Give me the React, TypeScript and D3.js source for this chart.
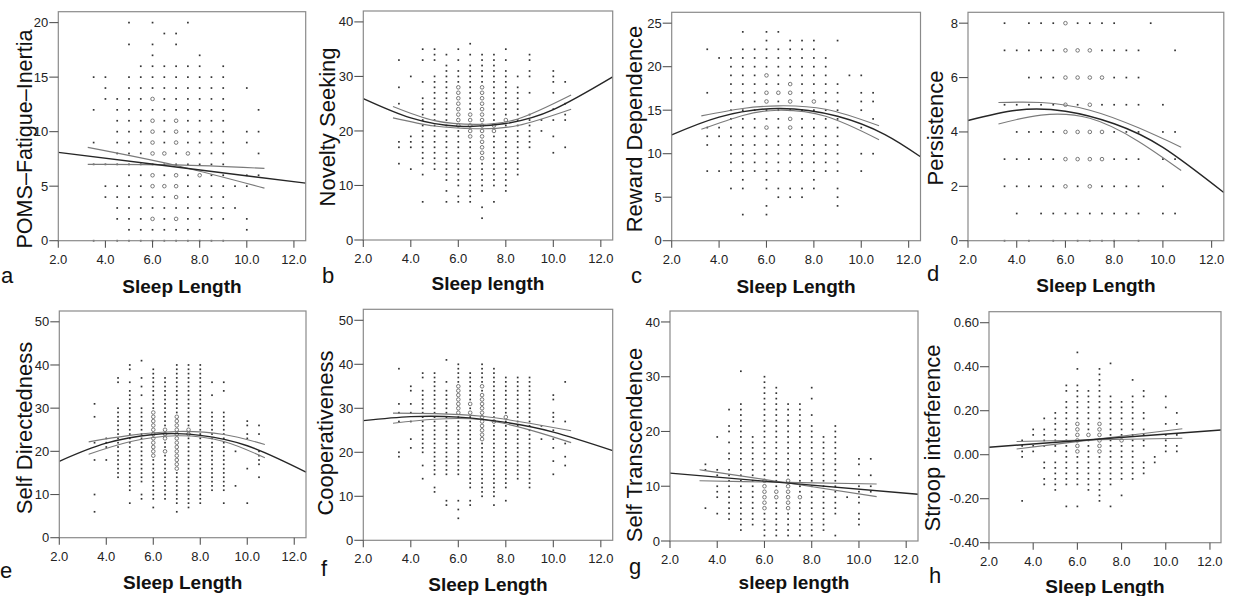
import * as d3 from "d3";

type Pt = [number, number];
type Item = number | [number, number];
type Col = [number, Item[]];
type Row = [number, number[]];

// ---- panel a: POMS fatigue (read by rows: [y, xs]) ----
const rowsA: Row[] = [
  [20, [5, 6, 7.5]],
  [19, [6.5, 7]],
  [18, [5, 6, 7]],
  [17, [6, 8]],
  [16, [5.5, 6, 6.5, 7, 7.5, 8, 9]],
  [15, [3.5, 4, 5, 5.5, 6, 6.5, 7, 7.5, 8, 8.5, 9]],
  [14, [4, 5, 5.5, 6, 6.5, 7, 7.5, 8, 8.5, 9, 10]],
  [13, [4, 4.5, 5, 5.5, 6, 6.5, 7, 7.5, 8, 8.5, 9]],
  [12, [3.5, 4.5, 5, 5.5, 6, 6.5, 7, 7.5, 8, 8.5, 9, 10.5]],
  [11, [4.5, 5, 5.5, 6, 6.5, 7, 7.5, 8, 8.5, 9]],
  [10, [4.5, 5, 5.5, 6, 6.5, 7, 7.5, 8, 8.5, 9, 10, 10.5]],
  [9, [3.5, 4.5, 5, 5.5, 6, 6.5, 7, 7.5, 8, 8.5, 9, 10]],
  [8, [4.5, 5, 5.5, 6, 6.5, 7, 7.5, 8, 8.5, 9, 10.5]],
  [7, [3.5, 4, 4.5, 5, 5.5, 6, 6.5, 7, 7.5, 8, 8.5, 9]],
  [6, [5, 5.5, 6, 6.5, 7, 7.5, 8, 8.5, 9, 10, 10.5]],
  [5, [4, 4.5, 5, 5.5, 6, 6.5, 7, 7.5, 8, 8.5, 9, 9.5, 10]],
  [4, [4, 4.5, 5, 5.5, 6, 6.5, 7, 7.5, 8, 8.5, 9]],
  [3, [4.5, 5, 5.5, 6, 6.5, 7, 7.5, 8, 8.5, 9, 9.5]],
  [2, [4.5, 5, 5.5, 6, 6.5, 7, 7.5, 8, 8.5, 9, 10]],
  [1, [5, 5.5, 6, 6.5, 7, 7.5, 8, 10]],
  [0, [3.5, 4.5, 5, 5.5, 6, 6.5, 7, 7.5, 8, 8.5, 9]],
];
const ringsA: Col[] = [[6, [13, 11, 10, 9, 8, 6, 5, 2]], [6.5, [8, 5]], [7, [11, 10, 9, 6, 5, 4, 2]], [7.5, [8]], [8, [6]]];
const fitA: Pt[] = [[2, 8.1], [7, 6.76], [12.5, 5.28]];
const ciA1: Pt[] = [[3.25, 8.56], [7, 6.9], [10.75, 4.82]];
const ciA2: Pt[] = [[3.25, 7.0], [7, 6.95], [10.75, 6.63]];

// ---- panel b: novelty seeking (columns: [x, ys | [lo, hi] runs]) ----
const colsB: Col[] = [
  [3.5, [33, 28, 25, 18, 17, 14]],
  [4, [30, 19, 18, 17, 13]],
  [4.5, [35, 33, 29, [14, 26], 12, 7]],
  [5, [35, 34, 33, [13, 30]]],
  [5.5, [34, [11, 32], 9, 7]],
  [6, [35, 33, [10, 31], 8, 7]],
  [6.5, [36, 34, [7, 32]]],
  [7, [34, [9, 33], 6, 4]],
  [7.5, [34, [10, 33], 7]],
  [8, [35, 33, [9, 31]]],
  [8.5, [30, 28, [12, 27]]],
  [9, [34, 33, 31, 30, 27, [17, 23]]],
  [9.5, [22, 20]],
  [10, [31, 30, 29, 27, 24, 22, 19, 16]],
  [10.5, [29, 25, 23, 22, 17]],
];
const ringsB: Col[] = [[6, [[21, 28]]], [6.5, [[19, 23]]], [7, [[15, 28]]], [7.5, [21, 20]], [8, [22]]];
const fitB: Pt[] = [[2, 25.95], [4, 22.4], [6, 20.87], [8, 21.36], [10, 23.9], [12.5, 29.9]];
const ciB1: Pt[] = [[3.25, 24.5], [5, 21.9], [6.75, 21.2], [8.5, 22.2], [10.75, 26.6]];
const ciB2: Pt[] = [[3.25, 22.4], [5, 20.9], [6.75, 20.4], [8.5, 21.0], [10.75, 24.0]];

// ---- panel c: reward dependence (rows) ----
const rowsC: Row[] = [
  [24, [5, 6, 6.5]],
  [23, [6, 7, 7.5, 8, 9]],
  [22, [3.5, 5, 5.5, 6, 6.5, 7, 7.5, 8]],
  [21, [4, 4.5, 5, 5.5, 6, 6.5, 7, 7.5, 8, 8.5]],
  [20, [4.5, 5, 5.5, 6, 6.5, 7, 7.5, 8, 8.5]],
  [19, [4.5, 5, 5.5, 6, 6.5, 7, 7.5, 8, 8.5, 9.5, 10]],
  [18, [4.5, 5, 5.5, 6, 6.5, 7, 7.5, 8, 8.5, 9]],
  [17, [3.5, 4.5, 5, 5.5, 6, 6.5, 7, 7.5, 8, 8.5, 9, 10, 10.5]],
  [16, [4.5, 5, 5.5, 6, 6.5, 7, 7.5, 8, 8.5, 9, 10, 10.5]],
  [15, [4.5, 5, 5.5, 6, 6.5, 7, 7.5, 8, 8.5, 9, 10]],
  [14, [4.5, 5, 5.5, 6, 6.5, 7, 7.5, 8, 8.5, 9, 10.5]],
  [13, [3.5, 4, 4.5, 5, 5.5, 6, 6.5, 7, 7.5, 8, 8.5, 9, 10]],
  [12, [3.5, 4, 4.5, 5, 5.5, 6, 6.5, 7, 7.5, 8, 8.5, 9]],
  [11, [3.5, 4.5, 5, 5.5, 6, 6.5, 7, 7.5, 8, 8.5, 9]],
  [10, [4.5, 5, 5.5, 6, 6.5, 7, 7.5, 8, 8.5, 9, 10, 10.5]],
  [9, [4.5, 5, 5.5, 6, 6.5, 7, 7.5, 8, 8.5, 9]],
  [8, [3.5, 4, 4.5, 5, 5.5, 6, 6.5, 7, 7.5, 8, 8.5, 9, 10]],
  [7, [5, 6, 8]],
  [6, [4.5, 5, 6, 6.5, 7, 7.5, 8, 9]],
  [5, [6.5, 7, 7.5, 9]],
  [4, [6, 9]],
  [3, [5, 6]],
];
const ringsC: Col[] = [[6, [19, 17, 16, 13]], [6.5, [17]], [7, [18, 17, 16, 14, 13]], [8, [16]]];
const fitC: Pt[] = [[2, 12.15], [4, 14.2], [6.5, 15.2], [9, 14.3], [11, 12.2], [12.5, 9.65]];
const ciC1: Pt[] = [[3.25, 14.35], [5, 15.2], [6.5, 15.5], [8.5, 15.1], [10.75, 13.2]];
const ciC2: Pt[] = [[3.25, 12.8], [5, 14.4], [6.5, 15.0], [8.5, 14.3], [10.75, 11.6]];

// ---- panel d: persistence (rows) ----
const rowsD: Row[] = [
  [8, [3.5, 4.5, 5, 5.5, 6, 6.5, 7, 7.5, 8, 9.5]],
  [7, [3.5, 4, 4.5, 5, 5.5, 6, 6.5, 7, 7.5, 8, 8.5, 9, 10.5]],
  [6, [4.5, 5, 5.5, 6, 6.5, 7, 7.5, 8, 8.5, 9]],
  [5, [3.5, 4, 4.5, 5, 5.5, 6, 6.5, 7, 7.5, 8, 8.5, 9, 10]],
  [4, [4, 4.5, 5, 5.5, 6, 6.5, 7, 7.5, 8, 8.5, 9, 10, 10.5]],
  [3, [3.5, 4, 4.5, 5, 5.5, 6, 6.5, 7, 7.5, 8, 8.5, 9, 10, 10.5]],
  [2, [3.5, 4, 4.5, 5, 5.5, 6, 6.5, 7, 7.5, 8, 8.5, 9, 10]],
  [1, [4, 5, 5.5, 6, 6.5, 7, 7.5, 8, 8.5, 9, 10, 10.5]],
  [0, [3.5, 4.5, 5.5, 6.5, 7, 7.5, 8, 9]],
];
const ringsD: Col[] = [[6, [8, 7, 6, 5, 4, 3, 2]], [6.5, [7, 6, 4, 3]], [7, [7, 6, 5, 4, 3, 2]], [7.5, [6, 4, 3]]];
const fitD: Pt[] = [[2, 4.42], [4, 4.8], [6, 4.76], [8, 4.3], [10, 3.43], [12.5, 1.77]];
const ciD1: Pt[] = [[3.25, 5.08], [5, 5.08], [7, 4.8], [9, 4.15], [10.75, 3.44]];
const ciD2: Pt[] = [[3.25, 4.29], [5, 4.62], [7, 4.5], [9, 3.65], [10.75, 2.58]];

// ---- panel e: self directedness ----
const colsE: Col[] = [
  [3.5, [31, 28, 22, 18, 10, 6]],
  [4, [23, 22, 21, 18]],
  [4.5, [37, 36, [14, 30]]],
  [5, [40, 39, 36, 34, [11, 33], 8]],
  [5.5, [41, 37, 35, 33, [13, 30], 10, 9]],
  [6, [[9, 39], 7]],
  [6.5, [[9, 37]]],
  [7, [[8, 40], 6]],
  [7.5, [[7, 40]]],
  [8, [[8, 40]]],
  [8.5, [36, 33, [11, 29]]],
  [9, [36, 34, [11, 29], 8]],
  [9.5, [20, 12]],
  [10, [27, 26, 24, 23, 16, 8]],
  [10.5, [26, 24, 20, 19, 18, 17, 14]],
];
const ringsE: Col[] = [[6, [[19, 29]]], [6.5, [25, 24, 23, 20]], [7, [[16, 28]]], [7.5, [25, 24]]];
const fitE: Pt[] = [[2, 17.7], [4, 21.9], [6, 23.9], [7, 24.1], [8, 23.7], [10, 21.3], [12.5, 15.2]];
const ciE1: Pt[] = [[3.25, 22.2], [5, 23.7], [7, 24.6], [9, 23.9], [10.75, 21.6]];
const ciE2: Pt[] = [[3.25, 19.3], [5, 22.2], [7, 23.6], [9, 22.3], [10.75, 18.5]];

// ---- panel f: cooperativeness ----
const colsF: Col[] = [
  [3.5, [39, 31, 29, 27, 20, 19]],
  [4, [35, 34, 31, 29, 27, 23, 21]],
  [4.5, [38, 37, [20, 34], 17, 14]],
  [5, [[15, 38], 12, 11]],
  [5.5, [41, 36, [15, 34], 9, 8]],
  [6, [[15, 40], 9, 7, 5]],
  [6.5, [[12, 38], 9, 8]],
  [7, [[10, 40]]],
  [7.5, [[10, 39], 8]],
  [8, [[12, 37], 9]],
  [8.5, [[14, 37]]],
  [9, [[12, 37]]],
  [9.5, [26, 23]],
  [10, [33, 32, 29, 28, 27, 25, 23, 21, 18, 15]],
  [10.5, [36, 27, 22, 19, 17]],
];
const ringsF: Col[] = [[6, [[29, 35]]], [6.5, [31, 29]], [7, [[23, 33], 35]], [7.5, [27]], [8, [28]]];
const fitF: Pt[] = [[2, 27.2], [4, 28.1], [6, 28.0], [8, 26.8], [10, 24.6], [12.5, 20.4]];
const ciF1: Pt[] = [[3.25, 28.9], [5, 28.8], [7, 28.2], [9, 26.6], [10.75, 24.9]];
const ciF2: Pt[] = [[3.25, 26.6], [5, 27.5], [7, 27.4], [9, 25.1], [10.75, 22.2]];

// ---- panel g: self transcendence ----
const colsG: Col[] = [
  [3.5, [14, 13, 6]],
  [4, [19, 13, 12, 10, 9, 8, 5]],
  [4.5, [24, 21, 20, 18, 16, 15, [4, 13]]],
  [5, [31, [2, 25]]],
  [5.5, [[3, 19]]],
  [6, [[1, 30]]],
  [6.5, [[1, 28]]],
  [7, [[1, 25]]],
  [7.5, [[1, 25]]],
  [8, [28, 26, 23, [1, 21]]],
  [8.5, [[2, 19]]],
  [9, [[5, 21], 1]],
  [9.5, [8]],
  [10, [15, 14, 12, 10, 9, 8, 7, 5, 4, 3]],
  [10.5, [15, 12, 10, 9]],
];
const ringsG: Col[] = [[6, [[6, 11]]], [6.5, [9, 8]], [7, [[6, 11]]], [7.5, [8]]];
const fitG: Pt[] = [[2, 12.4], [12.5, 8.55]];
const ciG1: Pt[] = [[3.25, 13.0], [7, 10.6], [10.75, 8.1]];
const ciG2: Pt[] = [[3.25, 11.0], [7, 10.7], [10.75, 10.4]];

// ---- panel h: stroop interference (runs step 0.025) ----
const colsH: Col[] = [
  [3.5, [0.065, 0.04, 0.015, -0.01, -0.21]],
  [4, [0.115, 0.09, 0.04, 0.015]],
  [4.5, [0.165, 0.115, 0.09, 0.065, 0.04, -0.035, -0.06, -0.11, -0.135]],
  [5, [[0.015, 0.19], [-0.16, -0.035]]],
  [5.5, [0.315, 0.29, [-0.135, 0.24], -0.235]],
  [6, [0.465, 0.39, [-0.135, 0.315], -0.235]],
  [6.5, [[-0.16, 0.29]]],
  [7, [0.39, 0.365, [-0.185, 0.34], -0.21]],
  [7.5, [0.415, [-0.135, 0.265], -0.235]],
  [8, [[-0.11, 0.24], -0.185]],
  [8.5, [0.34, [-0.11, 0.265]]],
  [9, [0.29, 0.265, 0.19, 0.165, 0.115, 0.09, 0.065, 0.04, -0.035, -0.06, -0.085]],
  [9.5, [-0.01, -0.035]],
  [10, [0.265, 0.215, 0.14, 0.09, 0.065, 0.04, 0.015]],
  [10.5, [0.19, 0.14, 0.09, 0.04, 0.015]],
];
const ringsH: Col[] = [[6, [[0.015, 0.14]]], [6.5, [0.09]], [7, [[0.015, 0.14]]], [8, [0.065]]];
const fitH: Pt[] = [[2, 0.034], [12.5, 0.112]];
const ciH1: Pt[] = [[3.25, 0.06], [7, 0.068], [10.75, 0.075]];
const ciH2: Pt[] = [[3.25, 0.026], [7, 0.072], [10.75, 0.118]];

const xTicks = [2, 4, 6, 8, 10, 12];

function fromRows(rows: Row[]): Pt[] {
  return rows.flatMap(([y, xs]) => xs.map((x) => [x, y] as Pt));
}
function fromCols(cols: Col[], step: number): Pt[] {
  return cols.flatMap(([x, items]) =>
    items.flatMap((it) =>
      Array.isArray(it)
        ? d3.range(it[0], it[1] + step / 2, step).map((y) => [x, +y.toFixed(3)] as Pt)
        : [[x, it] as Pt]
    )
  );
}

const panels = [
  { id: "a", dots: fromRows(rowsA), rings: fromCols(ringsA, 1), fit: fitA, ci: [ciA1, ciA2], yMax: 21, yMin: 0, yTicks: [0, 5, 10, 15, 20], yLabel: "POMS–Fatigue–Inertia", xLabel: "Sleep Length" },
  { id: "b", dots: fromCols(colsB, 1), rings: fromCols(ringsB, 1), fit: fitB, ci: [ciB1, ciB2], yMax: 42, yMin: 0, yTicks: [0, 10, 20, 30, 40], yLabel: "Novelty Seeking", xLabel: "Sleep length" },
  { id: "c", dots: fromRows(rowsC), rings: fromCols(ringsC, 1), fit: fitC, ci: [ciC1, ciC2], yMax: 26.25, yMin: 0, yTicks: [0, 5, 10, 15, 20, 25], yLabel: "Reward Dependence", xLabel: "Sleep Length" },
  { id: "d", dots: fromRows(rowsD), rings: fromCols(ringsD, 1), fit: fitD, ci: [ciD1, ciD2], yMax: 8.4, yMin: 0, yTicks: [0, 2, 4, 6, 8], yLabel: "Persistence", xLabel: "Sleep Length" },
  { id: "e", dots: fromCols(colsE, 1), rings: fromCols(ringsE, 1), fit: fitE, ci: [ciE1, ciE2], yMax: 52.5, yMin: 0, yTicks: [0, 10, 20, 30, 40, 50], yLabel: "Self Directedness", xLabel: "Sleep Length" },
  { id: "f", dots: fromCols(colsF, 1), rings: fromCols(ringsF, 1), fit: fitF, ci: [ciF1, ciF2], yMax: 52.5, yMin: 0, yTicks: [0, 10, 20, 30, 40, 50], yLabel: "Cooperativeness", xLabel: "Sleep Length" },
  { id: "g", dots: fromCols(colsG, 1), rings: fromCols(ringsG, 1), fit: fitG, ci: [ciG1, ciG2], yMax: 42, yMin: 0, yTicks: [0, 10, 20, 30, 40], yLabel: "Self Transcendence", xLabel: "sleep length" },
  { id: "h", dots: fromCols(colsH, 0.025), rings: fromCols(ringsH, 0.025), fit: fitH, ci: [ciH1, ciH2], yMax: 0.65, yMin: -0.4, yTicks: [-0.4, -0.2, 0, 0.2, 0.4, 0.6], yLabel: "Stroop interference", xLabel: "Sleep Length" },
];

// frame box, y-label (baseline x, centre y, optional length), letter, x-label baseline
const layout: Record<string, any> = {
  a: { l: 58.3, r: 305.7, t: 11.7, b: 240.7, lx: 32, ly: 139, len: 219, ax: 1, ay: 283, xly: 293 },
  b: { l: 363.3, r: 612.7, t: 11, b: 240, lx: 335, ly: 127, ax: 322, ay: 283, xly: 290 },
  c: { l: 671.7, r: 920.5, t: 12.3, b: 240.7, lx: 641.5, ly: 129, ax: 631, ay: 283, xly: 293 },
  d: { l: 968, r: 1223.8, t: 12.3, b: 240.7, lx: 943, ly: 128, ax: 927, ay: 281, xly: 292 },
  e: { l: 59.3, r: 306, t: 311, b: 537.7, lx: 31.5, ly: 428, ax: 0, ay: 578, xly: 589 },
  f: { l: 363.3, r: 612.7, t: 309.3, b: 540.3, lx: 333, ly: 433, ax: 321, ay: 576, xly: 591 },
  g: { l: 670, r: 918, t: 311, b: 541, lx: 641.5, ly: 445, ax: 629, ay: 574, xly: 589 },
  h: { l: 989, r: 1221, t: 311.7, b: 542.7, lx: 940, ly: 438, ax: 929, ay: 583, xly: 593 },
};

const FONT = "Liberation Sans, Arial, Helvetica, sans-serif";

function Panel({ p }: { p: (typeof panels)[number] }) {
  const L = layout[p.id];
  const x = d3.scaleLinear().domain([2, 12.5]).range([L.l, L.r]);
  const y = d3.scaleLinear().domain([p.yMin, p.yMax]).range([L.b, L.t]);
  const line = d3
    .line<Pt>()
    .x((d) => x(d[0]))
    .y((d) => y(d[1]))
    .curve(d3.curveNatural);
  const isRing = (d: Pt) => p.rings.some((r) => r[0] === d[0] && Math.abs(r[1] - d[1]) < 1e-6);
  const fmtY = (v: number) => (p.id === "h" ? v.toFixed(2) : String(v));

  return (
    <g>
      {p.dots
        .filter((d) => !isRing(d))
        .map((d, i) => (
          <rect key={"d" + i} x={x(d[0]) - 0.85} y={y(d[1]) - 0.85} width={1.7} height={1.7} fill="#333" />
        ))}
      {p.rings.map((d, i) => (
        <circle key={"r" + i} cx={x(d[0])} cy={y(d[1])} r={1.8} fill="none" stroke="#6a6a6a" strokeWidth={0.9} />
      ))}
      {p.ci.map((c, i) => (
        <path key={"c" + i} d={line(c) ?? ""} fill="none" stroke="#7a7a7a" strokeWidth={1.1} />
      ))}
      <path d={line(p.fit) ?? ""} fill="none" stroke="#262626" strokeWidth={1.4} />
      <rect x={L.l} y={L.t} width={L.r - L.l} height={L.b - L.t} fill="none" stroke="#8a8a8a" strokeWidth={1.2} />
      {xTicks.map((t) => (
        <g key={"x" + t}>
          <line x1={x(t)} x2={x(t)} y1={L.b} y2={L.b + 7} stroke="#555" strokeWidth={1.1} />
          <text x={x(t)} y={L.b + 23} textAnchor="middle" fontSize={13} fontFamily={FONT} fill="#222">
            {t.toFixed(1)}
          </text>
        </g>
      ))}
      {p.yTicks.map((t) => (
        <g key={"y" + t}>
          <line x1={L.l - 9} x2={L.l} y1={y(t)} y2={y(t)} stroke="#555" strokeWidth={1.1} />
          <text x={L.l - 10} y={y(t)} dy="0.35em" textAnchor="end" fontSize={13} fontFamily={FONT} fill="#222">
            {fmtY(t)}
          </text>
        </g>
      ))}
      <text
        transform={`translate(${L.lx},${L.ly}) rotate(-90)`}
        textAnchor="middle"
        fontSize={22}
        fontFamily={FONT}
        fill="#111"
        {...(L.len ? { textLength: L.len, lengthAdjust: "spacingAndGlyphs" } : {})}
      >
        {p.yLabel}
      </text>
      <text x={(L.l + L.r) / 2} y={L.xly} textAnchor="middle" fontSize={19} fontWeight="bold" fontFamily={FONT} fill="#111">
        {p.xLabel}
      </text>
      <text x={L.ax} y={L.ay} fontSize={22} fontFamily={FONT} fill="#111">
        {p.id}
      </text>
    </g>
  );
}

export default function App() {
  return (
    <svg
      width={1238}
      height={596}
      viewBox="0 0 1238 596"
      style={{ position: "absolute", left: 0, top: 0, background: "#fff" }}
    >
      {panels.map((p) => (
        <Panel key={p.id} p={p} />
      ))}
    </svg>
  );
}
